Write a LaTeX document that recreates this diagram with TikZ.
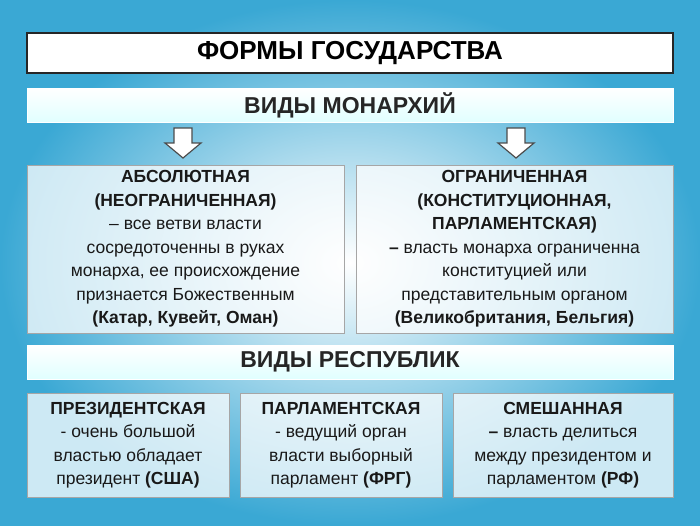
\documentclass[tikz,border=0pt]{standalone}
\usepackage{fontspec}
\setmainfont{Liberation Sans}
\usetikzlibrary{positioning}
\definecolor{bgedge}{RGB}{58,168,212}
\tikzset{band/.style={draw=white,line width=1pt,top color=white,bottom color=cyan!12!white,minimum height=34pt,font=\bfseries\fontsize{23}{26}\selectfont,text=black!85}}
\tikzset{infobox/.style={draw=black!35,line width=0.8pt,fill=white,fill opacity=0.75,text opacity=1,align=center,inner sep=0pt}}
\tikzset{boxtext/.style={align=center,font=\fontsize{17.5}{23.5}\selectfont,text=black!90}}
\tikzset{downarrow/.style={draw=black!70,fill=white,line width=1.2pt,line join=miter}}
\begin{document}
\begin{tikzpicture}[x=1pt,y=-1pt]
    \shade[inner color=white,outer color=bgedge] (0,0) rectangle (700,525);
    \useasboundingbox (0,0) rectangle (700,525);
    % title
    \node[draw=black!85,line width=1.6pt,fill=white,minimum width=646pt,minimum height=40pt,font=\bfseries\fontsize{26}{28}\selectfont] (title) at (350,53) {ФОРМЫ ГОСУДАРСТВА};
    \node[band,minimum width=646pt] (mon) at (350,105) {ВИДЫ МОНАРХИЙ};
    % arrows
    \foreach \ax/\nm in {183/al,516/ar} {
        \draw[downarrow] (\ax-9,128) -- (\ax+9,128) -- (\ax+9,143) -- (\ax+18,143) -- (\ax,158) -- (\ax-18,143) -- (\ax-9,143) -- cycle;
    }
    \node[infobox,minimum width=317pt,minimum height=168pt] (abs) at (185.5,249) {};
    \node[boxtext] at (abs) {\textbf{АБСОЛЮТНАЯ}\\\textbf{(НЕОГРАНИЧЕННАЯ)}\\– все ветви власти\\сосредоточенны в руках\\монарха, ее происхождение\\признается Божественным\\\textbf{(Катар, Кувейт, Оман)}};
    \node[infobox,minimum width=317pt,minimum height=168pt] (lim) at (514.5,249) {};
    \node[boxtext] at (lim) {\textbf{ОГРАНИЧЕННАЯ}\\\textbf{(КОНСТИТУЦИОННАЯ,}\\\textbf{ПАРЛАМЕНТСКАЯ)}\\\textbf{–} власть монарха ограниченна\\конституцией или\\представительным органом\\\textbf{(Великобритания, Бельгия)}};
    \node[band,minimum width=646pt] (rep) at (350,362) {ВИДЫ РЕСПУБЛИК};
    \node[infobox,minimum width=202pt,minimum height=104pt] (pres) at (128,445) {};
    \node[boxtext] at (pres) {\textbf{ПРЕЗИДЕНТСКАЯ}\\- очень большой\\властью обладает\\президент \textbf{(США)}};
    \node[infobox,minimum width=202pt,minimum height=104pt] (parl) at (341,445) {};
    \node[boxtext] at (parl) {\textbf{ПАРЛАМЕНТСКАЯ}\\- ведущий орган\\власти выборный\\парламент \textbf{(ФРГ)}};
    \node[infobox,minimum width=220pt,minimum height=104pt] (mix) at (563,445) {};
    \node[boxtext] at (mix) {\textbf{СМЕШАННАЯ}\\\textbf{–} власть делиться\\между президентом и\\парламентом \textbf{(РФ)}};
\end{tikzpicture}
\end{document}
